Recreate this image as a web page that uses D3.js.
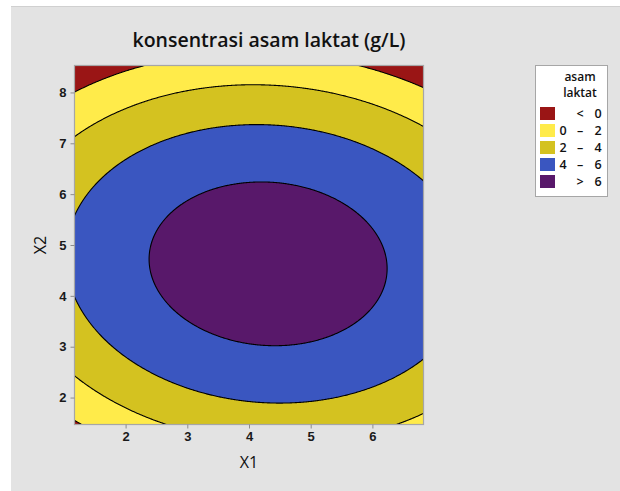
<!DOCTYPE html>
<html>
<head>
<meta charset="utf-8">
<script src="https://cdn.jsdelivr.net/npm/d3@7"></script>
<style>
  body { margin: 0; background: #fff; }
  svg { display: block; font-family: "Open Sans", "Noto Sans", sans-serif; }
</style>
</head>
<body>
<div id="chart"></div>
<script>
// fitted response surface: z = b0 + b1*X1 + b2*X2 + b11*X1^2 + b22*X2^2 + b12*X1*X2
const terms = ["const", "X1", "X2", "X1*X1", "X2*X2", "X1*X2"];
const coef = [-7.78, 2.637, 3.955, -0.285, -0.409, -0.039];

const x1Range = [1.18, 6.82];
const x2Range = [1.48, 8.52];
const x1Ticks = [2, 3, 4, 5, 6];
const x2Ticks = [2, 3, 4, 5, 6, 7, 8];

const levels = [0, 2, 4, 6];
// legend rows: [low, sign, high]
const legendLabels = [["", "<", "0"], ["0", "–", "2"], ["2", "–", "4"], ["4", "–", "6"], ["", ">", "6"]];
const colors = ["#9a1515", "#ffeb4a", "#d4c220", "#3a56c0", "#58186a"];

class ContourChart {
    constructor() {
        this.W = 620;
        this.H = 491;
        this.margin = {top: 66, left: 75, right: 197, bottom: 67};
        this.width = this.W - this.margin.left - this.margin.right;
        this.height = this.H - this.margin.top - this.margin.bottom;
    }

    z(x1, x2) {
        const v = [1, x1, x2, x1 * x1, x2 * x2, x1 * x2];
        return d3.sum(v, (d, i) => d * coef[i]);
    }

    draw(divID) {
        const svg = d3.select("#" + divID).append("svg")
            .attr("width", this.W)
            .attr("height", this.H);

        // grey panel
        svg.append("rect").attr("x", 11).attr("y", 6)
            .attr("width", this.W - 11).attr("height", this.H - 6)
            .attr("fill", "#e3e3e3");
        svg.append("line").attr("x1", 11).attr("x2", this.W).attr("y1", 6.5).attr("y2", 6.5)
            .attr("stroke", "#d0d0d0");

        const x = d3.scaleLinear().domain(x1Range).range([0, this.width]);
        const y = d3.scaleLinear().domain(x2Range).range([this.height, 0]);

        const g = svg.append("g")
            .attr("transform", "translate(" + this.margin.left + "," + this.margin.top + ")");

        g.append("clipPath").attr("id", "clip")
            .append("rect").attr("width", this.width).attr("height", this.height);

        // grid a bit larger than plot so contour borders fall outside the clip
        const pad = 4, step = 1;
        const nx = Math.ceil((this.width + 2 * pad) / step);
        const ny = Math.ceil((this.height + 2 * pad) / step);
        const values = new Array(nx * ny);
        for (let j = 0; j < ny; j++) {
            for (let i = 0; i < nx; i++) {
                const px = -pad + (i + 0.5) * step;
                const py = -pad + (j + 0.5) * step;
                values[j * nx + i] = this.z(x.invert(px), y.invert(py));
            }
        }

        const contours = d3.contours().size([nx, ny]).thresholds(levels)(values);
        const path = d3.geoPath(d3.geoTransform({
            point: function (px, py) { this.stream.point(-pad + px * step, -pad + py * step); }
        }));

        const plot = g.append("g").attr("clip-path", "url(#clip)");
        plot.append("rect").attr("width", this.width).attr("height", this.height)
            .attr("fill", colors[0]);
        plot.selectAll(".band")
            .data(contours)
            .enter().append("path")
            .attr("class", "band")
            .attr("d", path)
            .attr("fill", (d, i) => colors[i + 1])
            .attr("stroke", "#000")
            .attr("stroke-width", 1.1)
            .attr("stroke-linejoin", "round");

        // frame
        g.append("rect").attr("x", -0.5).attr("y", -0.5)
            .attr("width", this.width + 1).attr("height", this.height + 1)
            .attr("fill", "none").attr("stroke", "#a6a6a6").attr("stroke-width", 1.2);

        // axes
        const xAxis = g.append("g")
            .attr("transform", "translate(0," + (this.height + 0.5) + ")")
            .call(d3.axisBottom(x).tickValues(x1Ticks).tickFormat(d3.format("d"))
                .tickSize(4).tickPadding(3));
        const yAxis = g.append("g")
            .attr("transform", "translate(-0.5,0)")
            .call(d3.axisLeft(y).tickValues(x2Ticks).tickFormat(d3.format("d"))
                .tickSize(4).tickPadding(4));
        [xAxis, yAxis].forEach(a => {
            a.select(".domain").remove();
            a.selectAll(".tick line").attr("stroke", "#8c8c8c");
            a.selectAll(".tick text")
                .attr("fill", "#1a1a1a")
                .style("font-size", "13px")
                .style("font-weight", "600");
        });

        g.append("text")
            .attr("x", this.width / 2).attr("y", this.height + 44)
            .attr("text-anchor", "middle")
            .style("font-size", "16px").attr("fill", "#111")
            .text("X1");
        g.append("text")
            .attr("transform", "translate(-29," + (this.height / 2) + ") rotate(-90)")
            .attr("text-anchor", "middle")
            .style("font-size", "16px").attr("fill", "#111")
            .text("X2");

        svg.append("text")
            .attr("x", 269).attr("y", 47)
            .attr("text-anchor", "middle")
            .style("font-size", "19.5px").style("font-weight", "600")
            .attr("fill", "#111")
            .text("konsentrasi asam laktat (g/L)");

        // legend
        const lg = svg.append("g").attr("transform", "translate(535,65)");
        lg.append("rect").attr("x", 0.5).attr("y", 0.5).attr("width", 72).attr("height", 131)
            .attr("fill", "#fff").attr("stroke", "#a6a6a6");
        lg.selectAll(".lt").data(["asam", "laktat"]).enter().append("text")
            .attr("x", 45).attr("y", (d, i) => 16 + i * 16)
            .attr("text-anchor", "middle")
            .style("font-size", "12px").style("font-weight", "600").attr("fill", "#111")
            .text(d => d);
        const item = lg.selectAll(".item").data(legendLabels).enter().append("g")
            .attr("transform", (d, i) => "translate(5," + (42 + i * 17) + ")");
        item.append("rect").attr("width", 15).attr("height", 13)
            .attr("fill", (d, i) => colors[i]);
        const cols = [23, 40, 58];
        item.selectAll("text").data(d => d).enter().append("text")
            .attr("x", (d, i) => cols[i]).attr("y", 11)
            .attr("text-anchor", "middle")
            .style("font-size", "12.5px").style("font-weight", "600")
            .attr("fill", "#111")
            .text(d => d);
    }
}

new ContourChart().draw("chart");
</script>
</body>
</html>
